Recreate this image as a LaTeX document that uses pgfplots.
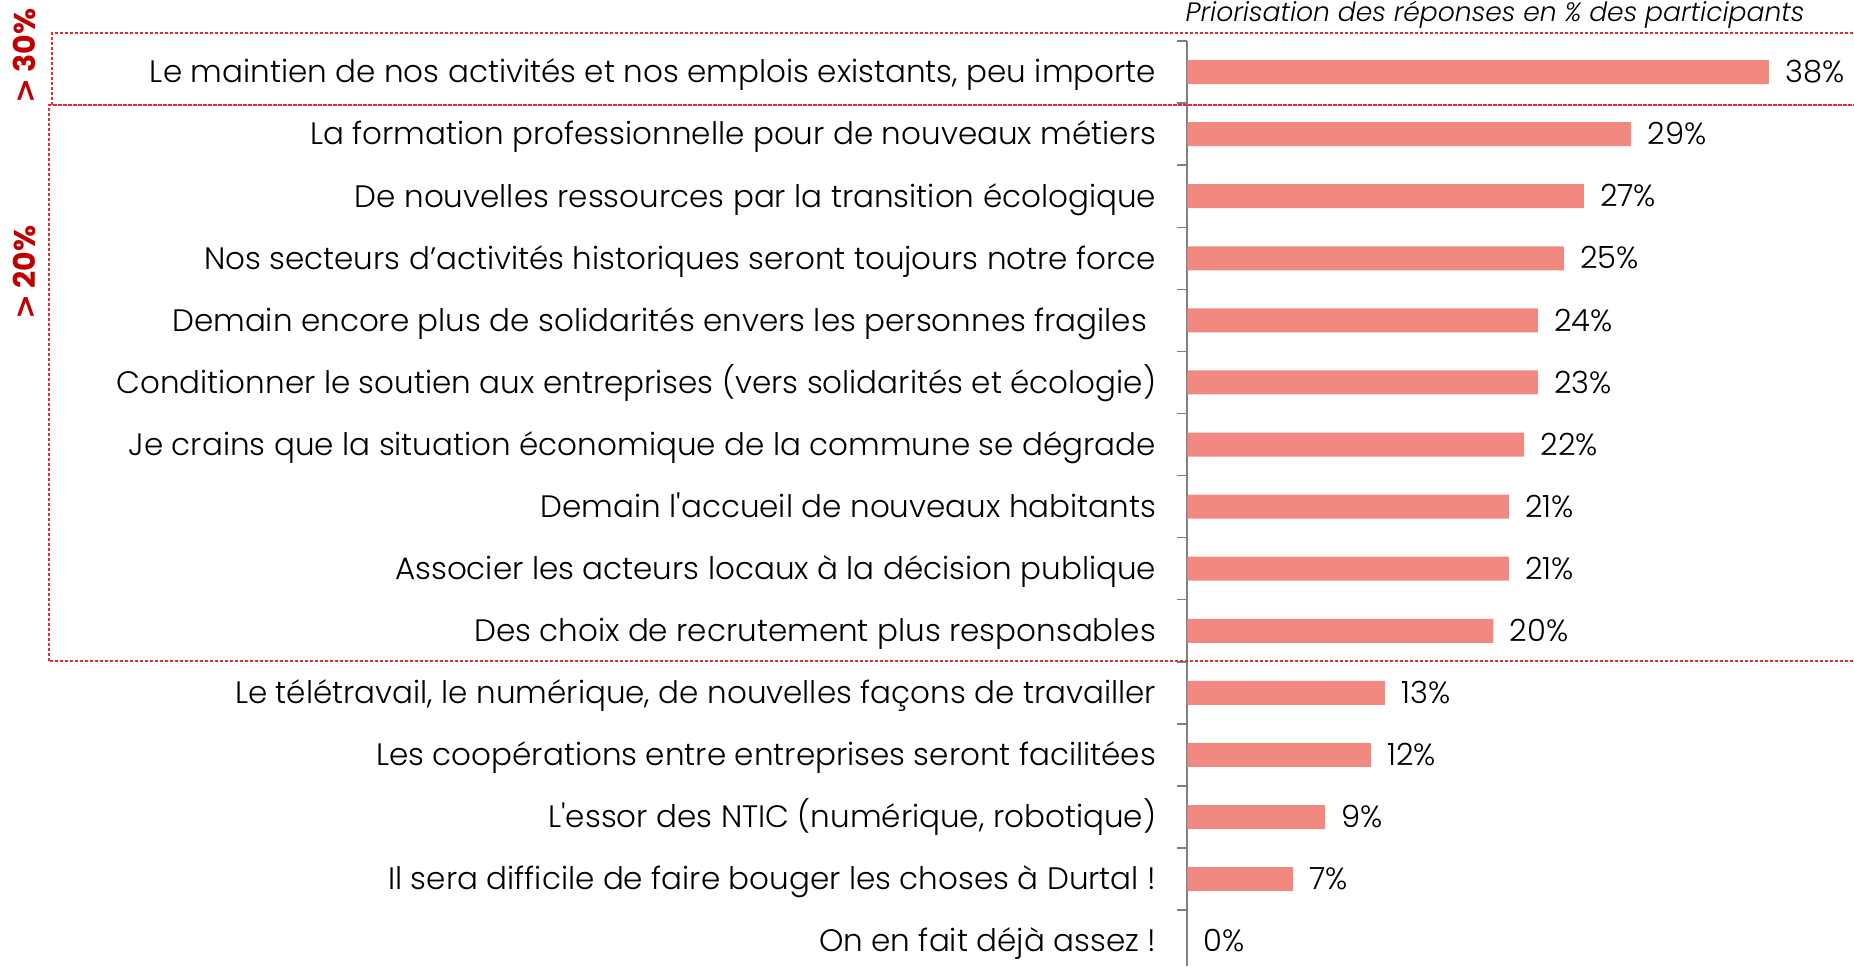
\documentclass[border=0pt]{standalone}
\usepackage{fontspec}
\setmainfont{Poppins}[UprightFont={* Light}, ItalicFont={* Light Italic}, BoldFont={* Bold}]
\newfontfamily\dejavu{DejaVu Sans}
\usepackage{pgfplots}
\pgfplotsset{compat=1.18}
\definecolor{barred}{RGB}{241,137,128}
\definecolor{darkred}{RGB}{192,0,0}
\definecolor{boxred}{RGB}{220,50,50}
\definecolor{axisgray}{RGB}{128,128,128}

\begin{document}
\begin{tikzpicture}
\begin{axis}[
    at={(0,0)}, anchor=south west,
    scale only axis,
    width=333.25pt, height=462.5pt,
    xmin=0, xmax=43.56,
    ymin=-0.5, ymax=14.40,
    y dir=reverse,
    axis x line=none,
    axis y line*=left,
    y axis line style={axisgray, line width=1pt},
    ytick={0,...,14},
    minor ytick={-0.5,0.5,...,14.5},
    major tick length=0pt,
    minor tick length=5pt,
    tick align=outside,
    ytick pos=left,
    minor tick style={axisgray, line width=0.75pt},
    yticklabels={
        {Le maintien de nos activités et nos emplois existants, peu importe},
        {La formation professionnelle pour de nouveaux métiers},
        {De nouvelles ressources par la transition écologique},
        {Nos secteurs d’activités historiques seront toujours notre force},
        {Demain encore plus de solidarités envers les personnes fragiles\kern4.5pt},
        {Conditionner le soutien aux entreprises (vers solidarités et écologie)},
        {Je crains que la situation économique de la commune se dégrade},
        {Demain l\textquotesingle accueil de nouveaux habitants},
        {Associer les acteurs locaux à la décision publique},
        {Des choix de recrutement plus responsables},
        {Le télétravail, le numérique, de nouvelles façons de travailler},
        {Les coopérations entre entreprises seront facilitées},
        {L\textquotesingle essor des NTIC (numérique, robotique)},
        {Il sera difficile de faire bouger les choses à Durtal !},
        {On en fait déjà assez !}},
    yticklabel style={anchor=east, inner sep=0pt, xshift=-15.5pt,
        font=\fontsize{15.5}{15.5}\selectfont, text height=10.8pt, text depth=0pt},
    clip=false,
]
\addplot[xbar, fill=barred, draw=none, bar width=12pt,
    point meta=explicit symbolic,
    nodes near coords={\pgfplotspointmeta\%},
    nodes near coords style={anchor=west, inner sep=0pt, xshift=8pt,
        font=\fontsize{15.3}{15.3}\selectfont, text height=10.7pt, text depth=0pt}]
    table[x=v, y=i, meta=lab] {
i  v     lab
0  38.0  38
1  29.0  29
2  25.9  27
3  24.6  25
4  22.9  24
5  22.9  23
6  22.0  22
7  21.0  21
8  21.0  21
9  20.0  20
10 12.9  13
11 12.0  12
12 9.0   9
13 6.9   7
14 0.0   0
};
\end{axis}
% regroupements
\draw[boxred, line width=0.6pt, dash pattern=on 1.5pt off 1pt]
    (-567.75pt,430.5pt) rectangle (340pt,466.5pt);
\draw[boxred, line width=0.6pt, dash pattern=on 1.5pt off 1pt]
    (-569.25pt,152.5pt) rectangle (340pt,430.5pt);
\node[rotate=90, text=darkred, inner sep=0pt, font=\fontsize{15}{15}\selectfont\bfseries]
    at (-581.5pt,455pt) {{\dejavu\bfseries >}\hspace{3pt}30\%};
\node[rotate=90, text=darkred, inner sep=0pt, font=\fontsize{15}{15}\selectfont\bfseries]
    at (-581.5pt,346.75pt) {{\dejavu\bfseries >}\hspace{3pt}20\%};
\node[anchor=base, inner sep=0pt, font=\fontsize{13.3}{13.3}\selectfont\itshape]
    at (153.75pt,472pt) {Priorisation des réponses en \% des participants};
\pgfresetboundingbox
\path[use as bounding box] (-593.75pt,0pt) rectangle (333.25pt,483pt);
\end{tikzpicture}
\end{document}
